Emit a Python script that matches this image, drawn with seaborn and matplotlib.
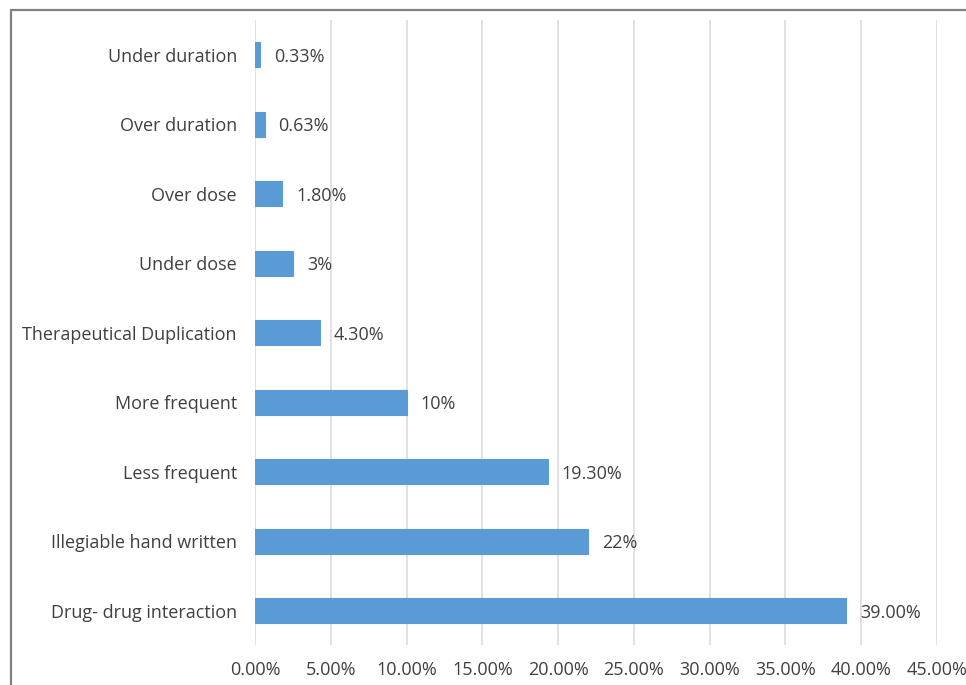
import matplotlib
matplotlib.use("Agg")
import matplotlib.pyplot as plt
import seaborn as sns
import pandas as pd
from matplotlib.lines import Line2D

categories = ["Under duration", "Over duration", "Over dose", "Under dose",
              "Therapeutical Duplication", "More frequent", "Less frequent",
              "Illegiable hand written", "Drug- drug interaction"]
values = [0.33, 0.63, 1.80, 2.5, 4.30, 10, 19.30, 22, 39.00]
value_labels = ["0.33%", "0.63%", "1.80%", "3%", "4.30%", "10%", "19.30%", "22%", "39.00%"]
xticks = [0, 5, 10, 15, 20, 25, 30, 35, 40, 45]
xtick_labels = ["0.00%", "5.00%", "10.00%", "15.00%", "20.00%", "25.00%",
                "30.00%", "35.00%", "40.00%", "45.00%"]

df = pd.DataFrame({"category": categories, "value": values})

sns.set_style("white")
plt.rcParams['font.family'] = ['Open Sans', 'DejaVu Sans']

fig = plt.figure(figsize=(9.66, 6.85), dpi=100)
ax = fig.add_axes([0.264, 0.058, 0.706, 0.913])

sns.barplot(data=df, x="value", y="category", order=categories, orient="h",
            color="#5B9BD5", saturation=1, width=0.36, ax=ax,
            edgecolor="#5B9BD5", linewidth=0.8)

ax.set_xlim(0, 45)
ax.set_xticks(xticks)
ax.set_xticklabels(xtick_labels)
ax.set_xlabel("")
ax.set_ylabel("")
ax.grid(axis="x", color="#dcdcdc", linewidth=1.2)
ax.set_axisbelow(True)
for s in ax.spines.values():
    s.set_visible(False)
ax.tick_params(axis="both", length=0, labelsize=13, colors="#404040")
ax.tick_params(axis="y", pad=13)
ax.tick_params(axis="x", pad=11)

for i, (v, lab) in enumerate(zip(values, value_labels)):
    ax.annotate(lab, xy=(v, i), xytext=(10, 0), textcoords="offset points",
                va="center_baseline", ha="left", fontsize=13, color="#404040")

fig.add_artist(Line2D([11/966, 11/966], [0, 1 - 10/685], transform=fig.transFigure,
                      color="#808080", linewidth=1.6))
fig.add_artist(Line2D([11/966, 1], [1 - 10/685, 1 - 10/685], transform=fig.transFigure,
                      color="#808080", linewidth=1.6))

fig.savefig("out.png", dpi=100)
